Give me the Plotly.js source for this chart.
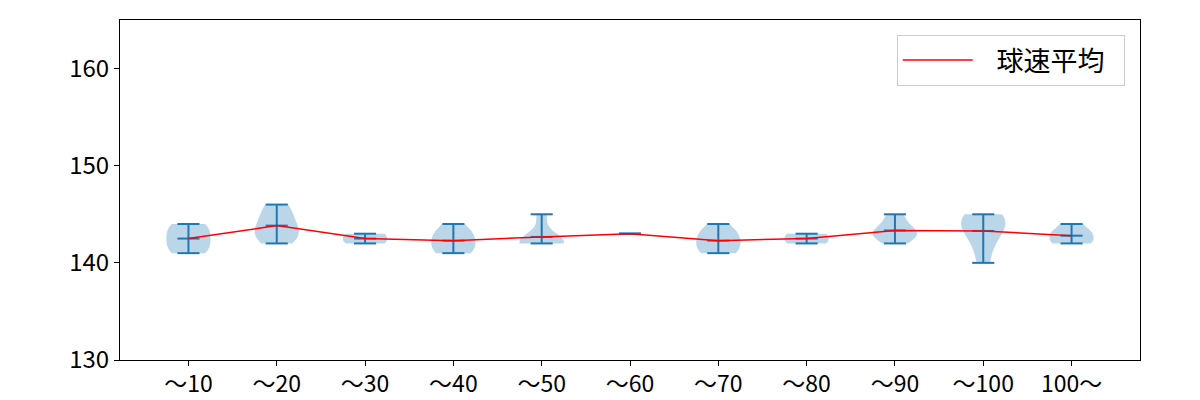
<!DOCTYPE html>
<html>
<head>
<meta charset="utf-8">
<script src="https://cdn.plot.ly/plotly-3.0.1.min.js"></script>
<style>
  html, body { margin: 0; padding: 0; background: #fff; }
  #chart { width: 1200px; height: 400px; }
</style>
</head>
<body>
<div id="chart"></div>
<script>
// Categories (tick labels)
const categories = ["〜10", "〜20", "〜30", "〜40", "〜50", "〜60", "〜70", "〜80", "〜90", "〜100", "100〜"];

// Pitch speeds (km/h) per category
const speeds_10  = [141, 141, 142, 142, 143, 143, 144, 144];
const speeds_20  = [142, 143, 143, 144, 145, 146];
const speeds_30  = [142, 143];
const speeds_40  = [141, 141, 142, 142, 143, 143, 144];
const speeds_50  = [142, 142, 142, 142, 143, 145];
const speeds_60  = [143];
const speeds_70  = [141, 141, 142, 142, 143, 143, 144];
const speeds_80  = [142, 143];
const speeds_90  = [142, 143, 143, 143, 144, 145];
const speeds_100 = [140, 142, 143, 144, 144, 145, 145];
const speeds_100plus = [142, 142, 143, 143, 144];

const yTicks = [130, 140, 150, 160];
const legendLabel = "球速平均";

const groups = [speeds_10, speeds_20, speeds_30, speeds_40, speeds_50, speeds_60,
                speeds_70, speeds_80, speeds_90, speeds_100, speeds_100plus];
const positions = categories.map((_, i) => i + 1);

const FONT = '"Noto Sans CJK JP", "Noto Sans", sans-serif';
const C0 = '#1f77b4';
const VWIDTH = 0.5;

function mean(a) { return a.reduce((s, v) => s + v, 0) / a.length; }
function std(a) {
  const m = mean(a);
  return Math.sqrt(a.reduce((s, v) => s + (v - m) * (v - m), 0) / (a.length - 1));
}

const traces = [];

// Violin bodies (Scott's rule bandwidth, clipped to data range)
groups.forEach((g, i) => {
  if (g.length < 2) return;
  traces.push({
    type: 'violin',
    x: g.map(() => positions[i]),
    y: g,
    width: VWIDTH,
    scalemode: 'width',
    spanmode: 'hard',
    bandwidth: std(g) * Math.pow(g.length, -0.2),
    points: false,
    box: { visible: false },
    meanline: { visible: false },
    fillcolor: 'rgba(31,119,180,0.3)',
    line: { width: 0, color: 'rgba(31,119,180,0)' },
    showlegend: false,
    hoverinfo: 'skip'
  });
});

// Min / max / mean caps and vertical bars
const segX = [], segY = [];
groups.forEach((g, i) => {
  const p = positions[i];
  const lo = Math.min(...g), hi = Math.max(...g), m = mean(g);
  const hw = VWIDTH / 4;
  [lo, hi, m].forEach(v => { segX.push(p - hw, p + hw, null); segY.push(v, v, null); });
  segX.push(p, p, null); segY.push(lo, hi, null);
});
traces.push({
  type: 'scatter', mode: 'lines', x: segX, y: segY,
  line: { color: C0, width: 2 }, showlegend: false, hoverinfo: 'skip'
});

// Mean line
traces.push({
  type: 'scatter', mode: 'lines',
  x: positions, y: groups.map(mean),
  name: '\u2002\u2009' + legendLabel + '\u2002',
  line: { color: 'red', width: 1.5 }
});

const layout = {
  width: 1200, height: 400,
  margin: { l: 120, r: 60, t: 20, b: 40 },
  paper_bgcolor: '#fff', plot_bgcolor: '#fff',
  font: { family: FONT, size: 24, color: '#000' },
  violinmode: 'overlay',
  showlegend: true,
  xaxis: {
    range: [0.225, 11.775],
    tickmode: 'array', tickvals: positions, ticktext: categories,
    showgrid: false, zeroline: false,
    showline: true, mirror: true, linecolor: '#000', linewidth: 1,
    ticks: 'outside', ticklen: 5, tickwidth: 1, tickcolor: '#000',
    ticklabelstandoff: -2,
    tickfont: { family: FONT, size: 23, color: '#000' }
  },
  yaxis: {
    range: [130, 165],
    tickmode: 'array', tickvals: yTicks, ticktext: yTicks.map(String),
    showgrid: false, zeroline: false,
    showline: true, mirror: true, linecolor: '#000', linewidth: 1,
    ticks: 'outside', ticklen: 5, tickwidth: 1, tickcolor: '#000',
    tickfont: { family: FONT, size: 24, color: '#000' }
  },
  legend: {
    x: 0.985, xanchor: 'right', y: 0.956, yanchor: 'top',
    bgcolor: '#fff', bordercolor: '#cccccc', borderwidth: 1,
    font: { family: FONT, size: 27, color: '#000' },
    itemwidth: 70
  }
};

Plotly.newPlot('chart', traces, layout, { staticPlot: true, displayModeBar: false });
</script>
</body>
</html>
